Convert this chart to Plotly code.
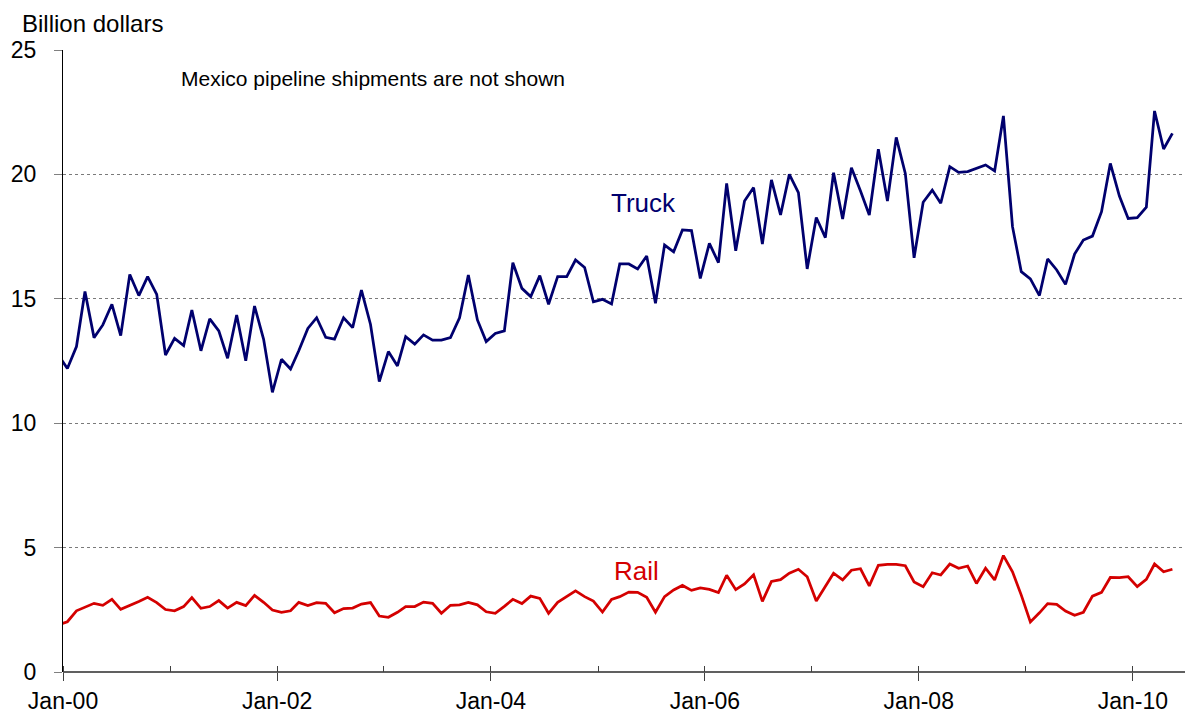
import plotly.graph_objects as go
import pandas as pd

# Monthly values, Dec-1999 (partly hidden behind the axis) through May-2010
truck = [12.74,
         12.20, 13.08, 15.29, 13.44, 13.95, 14.78, 13.52, 15.98, 15.13, 15.89, 15.18, 12.74,
         13.41, 13.12, 14.55, 12.91, 14.19, 13.71, 12.61, 14.35, 12.51, 14.71, 13.37, 11.24,
         12.57, 12.18, 12.91, 13.81, 14.24, 13.45, 13.38, 14.24, 13.84, 15.35, 13.97, 11.67,
         12.88, 12.30, 13.48, 13.18, 13.55, 13.34, 13.34, 13.44, 14.24, 15.96, 14.15, 13.28,
         13.61, 13.71, 16.45, 15.42, 15.09, 15.93, 14.78, 15.89, 15.89, 16.56, 16.26, 14.88,
         14.98, 14.79, 16.40, 16.40, 16.20, 16.72, 14.82, 17.16, 16.89, 17.77, 17.74, 15.82,
         17.23, 16.45, 19.64, 16.93, 18.93, 19.47, 17.20, 19.78, 18.37, 20.00, 19.27, 16.20,
         18.27, 17.46, 20.07, 18.21, 20.27, 19.33, 18.37, 21.01, 18.93, 21.49, 20.04, 16.65,
         18.88, 19.37, 18.84, 20.31, 20.08, 20.11, 20.24, 20.38, 20.14, 22.35, 17.90, 16.09,
         15.80, 15.13, 16.60, 16.16, 15.58, 16.80, 17.36, 17.52, 18.50, 20.44, 19.13, 18.23,
         18.26, 18.68, 22.55, 21.02, 21.65]

rail = [1.90,
        2.02, 2.46, 2.59, 2.76, 2.68, 2.92, 2.52, 2.67, 2.83, 3.00, 2.79, 2.51,
        2.46, 2.63, 2.99, 2.56, 2.63, 2.87, 2.57, 2.80, 2.67, 3.08, 2.80, 2.49,
        2.40, 2.46, 2.80, 2.67, 2.79, 2.76, 2.38, 2.55, 2.57, 2.73, 2.79, 2.25,
        2.20, 2.40, 2.63, 2.63, 2.81, 2.76, 2.36, 2.68, 2.70, 2.80, 2.70, 2.42,
        2.36, 2.64, 2.92, 2.75, 3.05, 2.96, 2.36, 2.80, 3.03, 3.26, 3.03, 2.85,
        2.41, 2.92, 3.03, 3.21, 3.20, 3.00, 2.40, 3.03, 3.30, 3.48, 3.28, 3.38,
        3.32, 3.19, 3.89, 3.31, 3.54, 3.91, 2.84, 3.64, 3.71, 3.97, 4.13, 3.83,
        2.85, 3.43, 3.97, 3.70, 4.09, 4.15, 3.46, 4.29, 4.33, 4.33, 4.27, 3.62,
        3.43, 3.99, 3.90, 4.34, 4.17, 4.26, 3.56, 4.17, 3.70, 4.68, 4.03, 3.09,
        2.01, 2.38, 2.75, 2.72, 2.45, 2.28, 2.40, 3.05, 3.20, 3.80, 3.79, 3.83,
        3.43, 3.72, 4.34, 4.03, 4.13]

months = pd.date_range("1999-12-01", periods=len(truck), freq="MS") + pd.Timedelta(days=15)

tick_vals = ["2000-01-01", "2002-01-01", "2004-01-01", "2006-01-01", "2008-01-01", "2010-01-01"]
tick_text = ["Jan-00", "Jan-02", "Jan-04", "Jan-06", "Jan-08", "Jan-10"]
y_ticks = [0, 5, 10, 15, 20, 25]

FONT = "Liberation Sans, Arial, sans-serif"

# page body has an 8px margin: figure origin sits at (8, 8) in the window
L, T = 63, 50        # plot-area left / top in window pixels
R, B = 1185, 672     # plot-area right / bottom in window pixels
W, H = 1187, 720
PW, PH = R - L, B - T

fig = go.Figure()
fig.add_trace(go.Scatter(x=months, y=truck, mode="lines", name="Truck",
                         line=dict(color="#00006e", width=2.75)))
fig.add_trace(go.Scatter(x=months, y=rail, mode="lines", name="Rail",
                         line=dict(color="#d40000", width=2.75)))

fig.update_layout(
    width=W, height=H,
    margin=dict(l=L - 8, r=W - (R - 8), t=T - 8, b=H - (B - 8)),
    paper_bgcolor="white", plot_bgcolor="white",
    showlegend=False,
    font=dict(family=FONT, color="black", size=23),
)

fig.update_xaxes(
    type="date", automargin=False,
    range=["2000-01-01", "2010-06-28"],
    tickmode="array", tickvals=tick_vals, ticktext=tick_text,
    ticks="outside", ticklen=8, tickcolor="#404040", tickwidth=1,
    ticklabelstandoff=0,
    tickfont=dict(size=23, family=FONT),
    minor=dict(dtick="M12", tick0="2000-01-01", ticks="inside", ticklen=6,
               tickcolor="#404040", showgrid=False),
    showgrid=False, zeroline=False,
    showline=False,
)

fig.update_yaxes(
    automargin=False,
    range=[0, 25],
    tickmode="array", tickvals=y_ticks,
    ticks="outside", ticklen=8, tickcolor="#808080",
    ticklabelstandoff=13,
    tickfont=dict(size=23, family=FONT),
    showgrid=True, gridcolor="#7a7a7a", griddash="dot", gridwidth=1,
    zeroline=True, zerolinecolor="#606060", zerolinewidth=2,
    showline=True, linecolor="black", linewidth=1,
)

def px(xp):
    return (xp - L) / PW

def py(yp):
    return (B - yp) / PH

fig.add_annotation(text="Billion dollars", xref="paper", yref="paper",
                   x=px(20), y=py(23), xanchor="left", yanchor="middle",
                   showarrow=False, font=dict(size=24, family=FONT, color="black"))
fig.add_annotation(text="Mexico pipeline shipments are not shown", xref="paper", yref="paper",
                   x=px(179), y=py(79), xanchor="left", yanchor="middle",
                   showarrow=False, font=dict(size=21, family=FONT, color="black"))
fig.add_annotation(text="Truck", xref="paper", yref="paper",
                   x=px(643), y=py(203), xanchor="center", yanchor="middle",
                   showarrow=False, font=dict(size=26, family=FONT, color="#00006e"))
fig.add_annotation(text="Rail", xref="paper", yref="paper",
                   x=px(636), y=py(571), xanchor="center", yanchor="middle",
                   showarrow=False, font=dict(size=26, family=FONT, color="#d40000"))

fig.write_html("out.html")
